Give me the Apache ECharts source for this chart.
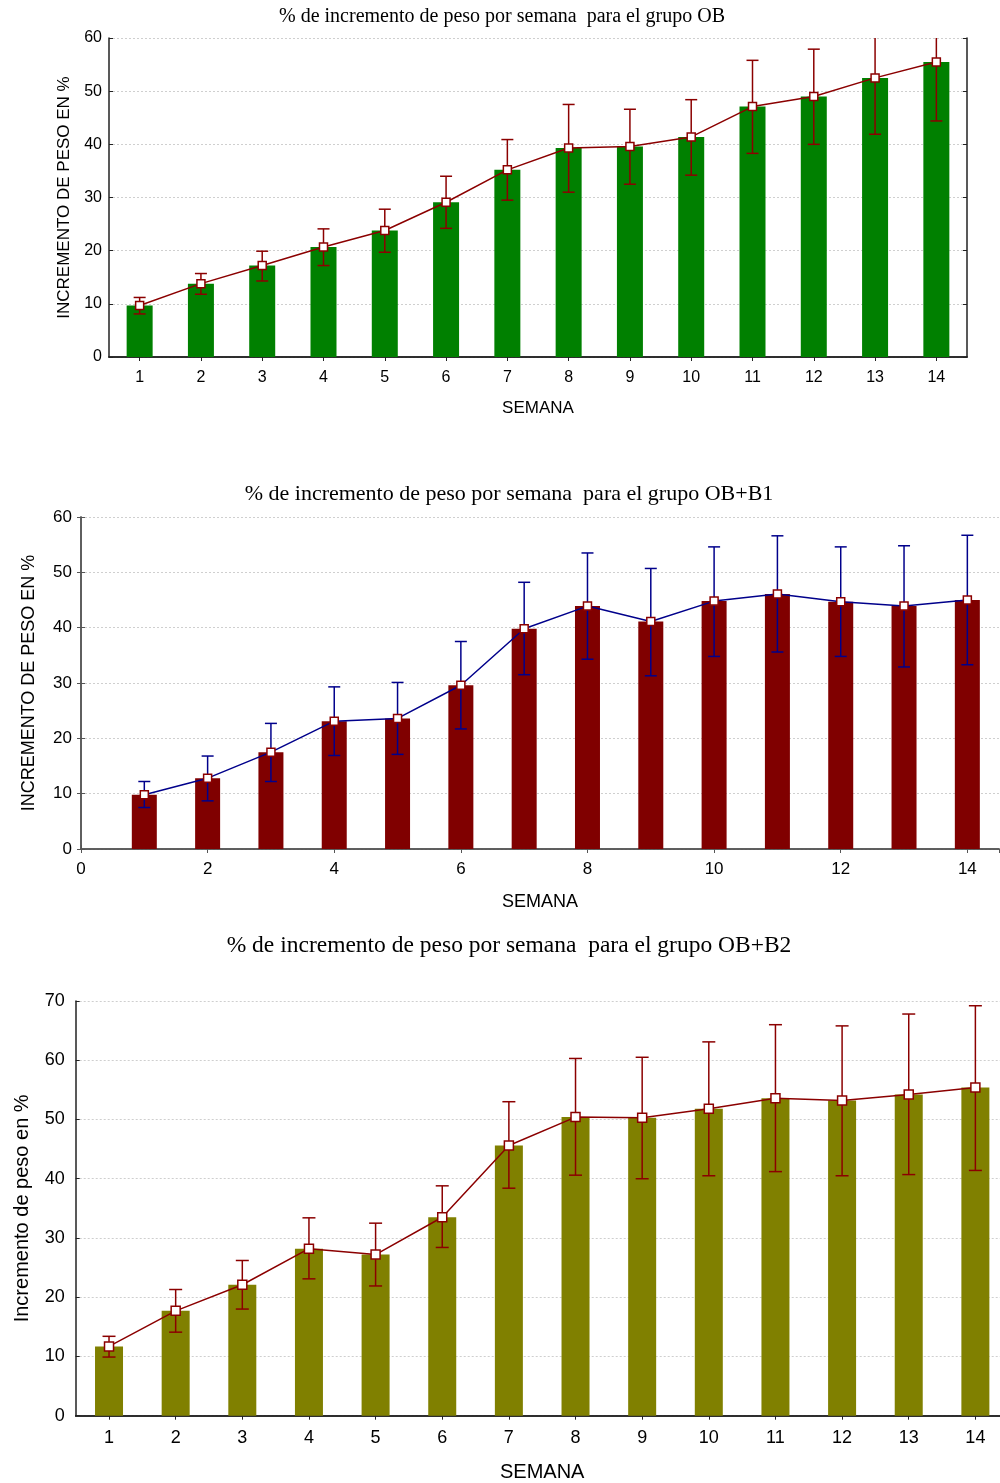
<!DOCTYPE html>
<html>
<head>
<meta charset="utf-8">
<script src="https://cdn.jsdelivr.net/npm/echarts@6/dist/echarts.min.js"></script>
<style>
html,body{margin:0;padding:0;background:#fff;}
#c{width:1000px;height:1483px;}
</style>
</head>
<body>
<div id="c"></div>
<script>
// ---------- DATA ----------
const weeks = [1,2,3,4,5,6,7,8,9,10,11,12,13,14];
const weekLabels = ['1','2','3','4','5','6','7','8','9','10','11','12','13','14'];

const titleOB = '% de incremento de peso por semana  para el grupo OB';
const titleB1 = '% de incremento de peso por semana  para el grupo OB+B1';
const titleB2 = '% de incremento de peso por semana  para el grupo OB+B2';
const yNameUpper = 'INCREMENTO DE PESO EN %';
const yNameLower = 'Incremento de peso en %';
const xName = 'SEMANA';

const obMean = [9.7,13.8,17.2,20.7,23.8,29.1,35.2,39.3,39.6,41.4,47.1,49.0,52.5,55.5];
const obLow  = [8.1,11.8,14.3,17.2,19.7,24.2,29.5,31.0,32.5,34.2,38.3,40.0,41.9,44.4];
const obHigh = [11.2,15.7,19.9,24.1,27.8,34.0,40.9,47.5,46.6,48.4,55.8,57.9,63.1,66.6];

const b1Mean = [9.8,12.8,17.5,23.1,23.6,29.6,39.8,43.9,41.1,44.8,46.1,44.7,43.9,45.0];
const b1Low  = [7.5,8.7,12.2,16.9,17.1,21.7,31.5,34.3,31.3,34.8,35.6,34.8,32.9,33.3];
const b1High = [12.2,16.8,22.7,29.3,30.1,37.5,48.2,53.5,50.7,54.6,56.6,54.6,54.8,56.7];

const b2Mean = [11.7,17.7,22.1,28.2,27.2,33.5,45.6,50.4,50.3,51.8,53.6,53.2,54.2,55.4];
const b2Low  = [9.9,14.1,18.0,23.1,21.9,28.4,38.4,40.6,40.0,40.5,41.2,40.5,40.7,41.4];
const b2High = [13.4,21.3,26.2,33.4,32.5,38.8,53.0,60.3,60.5,63.1,66.0,65.8,67.8,69.2];

// ---------- STYLE ----------
const SANS = '"Liberation Sans", Arial, sans-serif';
const SERIF = '"Liberation Serif", "Times New Roman", serif';
const DARKRED = '#8B0000';
const NAVY = '#00008B';

function errRender(capHalf, color, lw, yMax) {
  return function (params, api) {
    const x = api.value(0);
    const lo = api.value(1);
    let hi = api.value(2);
    const clipped = hi > yMax;
    if (clipped) hi = yMax;
    const pLo = api.coord([x, lo]);
    const pHi = api.coord([x, hi]);
    const xc = pLo[0];
    const st = { stroke: color, lineWidth: lw };
    const ch = [
      { type: 'line', shape: { x1: xc, y1: pHi[1], x2: xc, y2: pLo[1] }, style: st },
      { type: 'line', shape: { x1: xc - capHalf, y1: pLo[1], x2: xc + capHalf, y2: pLo[1] }, style: st }
    ];
    if (!clipped) ch.push({ type: 'line', shape: { x1: xc - capHalf, y1: pHi[1], x2: xc + capHalf, y2: pHi[1] }, style: st });
    return { type: 'group', children: ch };
  };
}

function yAxisPair(gridIndex, max, fontSize, nameSize, name, nameGap, labelMargin, lineColor) {
  return [
    {
      type: 'value', gridIndex: gridIndex, min: 0, max: max, interval: 10, position: 'left',
      name: name, nameLocation: 'middle', nameRotate: 90, nameGap: nameGap,
      nameTextStyle: { fontFamily: SANS, fontSize: nameSize, color: '#000' },
      axisLine: { show: true, lineStyle: { color: lineColor, width: 1.5 } },
      axisTick: { show: true, inside: true, length: 4, lineStyle: { color: lineColor } },
      axisLabel: { fontFamily: SANS, fontSize: fontSize, color: '#000', margin: labelMargin },
      splitLine: { show: true, lineStyle: { color: '#cfcfcf', type: [2, 2], width: 1 } }
    },
    {
      type: 'value', gridIndex: gridIndex, min: 0, max: max, interval: 10, position: 'right',
      axisLine: { show: true, lineStyle: { color: lineColor, width: 1.5 } },
      axisTick: { show: true, inside: true, length: 4, lineStyle: { color: lineColor } },
      axisLabel: { show: false },
      splitLine: { show: false }
    }
  ];
}

function catXPair(gridIndex, fontSize, nameSize, nameGap, labelMargin, lineColor) {
  return [
    {
      type: 'category', gridIndex: gridIndex, data: weekLabels, position: 'bottom', boundaryGap: true,
      name: xName, nameLocation: 'middle', nameGap: nameGap,
      nameTextStyle: { fontFamily: SANS, fontSize: nameSize, color: '#000' },
      axisLine: { show: true, lineStyle: { color: lineColor, width: 1.5 } },
      axisTick: { show: true, inside: true, alignWithLabel: true, length: 4, lineStyle: { color: lineColor } },
      axisLabel: { fontFamily: SANS, fontSize: fontSize, color: '#000', margin: labelMargin, interval: 0 },
      splitLine: { show: false }
    },
    {
      type: 'category', gridIndex: gridIndex, data: weekLabels, position: 'top', boundaryGap: true,
      axisLine: { show: true, lineStyle: { color: lineColor, width: 1.5 } },
      axisTick: { show: true, inside: true, alignWithLabel: true, length: 4, lineStyle: { color: lineColor } },
      axisLabel: { show: false },
      splitLine: { show: false }
    }
  ];
}

const y1 = yAxisPair(0, 60, 16, 17, yNameUpper, 36, 7, '#222');
const y2 = yAxisPair(1, 60, 17, 18, yNameUpper, 43, 9, '#555');
const y3 = yAxisPair(2, 70, 18, 20, yNameLower, 43, 11, '#222');

const x1 = catXPair(0, 16, 17, 43, 13, '#222');
const x3 = catXPair(2, 18, 20, 47, 13, '#222');
const x2 = [
  {
    type: 'value', gridIndex: 1, min: 0, max: 14.5, interval: 2, position: 'bottom',
    name: xName, nameLocation: 'middle', nameGap: 44,
    nameTextStyle: { fontFamily: SANS, fontSize: 18, color: '#000' },
    axisLine: { show: true, lineStyle: { color: '#555', width: 1.5 } },
    axisTick: { show: true, inside: true, length: 4, lineStyle: { color: '#555' } },
    axisLabel: { fontFamily: SANS, fontSize: 17, color: '#000', margin: 12, showMaxLabel: false },
    splitLine: { show: false }
  },
  {
    type: 'value', gridIndex: 1, min: 0, max: 14.5, interval: 2, position: 'top',
    axisLine: { show: true, lineStyle: { color: '#555', width: 1.5 } },
    axisTick: { show: true, inside: true, length: 4, lineStyle: { color: '#555' } },
    axisLabel: { show: false },
    splitLine: { show: false }
  }
];

const catIdx = weeks.map(function (w, i) { return i; });

const option = {
  animation: false,
  backgroundColor: '#fff',
  title: [
    { text: titleOB, left: 502, top: 7, textAlign: 'center', padding: 0,
      textStyle: { fontFamily: SERIF, fontSize: 20, fontWeight: 'normal', color: '#000' } },
    { text: titleB1, left: 509, top: 483, textAlign: 'center', padding: 0,
      textStyle: { fontFamily: SERIF, fontSize: 22, fontWeight: 'normal', color: '#000' } },
    { text: titleB2, left: 509, top: 934, textAlign: 'center', padding: 0,
      textStyle: { fontFamily: SERIF, fontSize: 23.5, fontWeight: 'normal', color: '#000' } }
  ],
  grid: [
    { left: 109, top: 38, width: 858, height: 319, outerBoundsMode: 'none', containLabel: false },
    { left: 81, top: 517, width: 918, height: 332, outerBoundsMode: 'none', containLabel: false },
    { left: 75.7, top: 1001, width: 933, height: 414.7, outerBoundsMode: 'none', containLabel: false }
  ],
  xAxis: [x1[0], x1[1], x2[0], x2[1], x3[0], x3[1]],
  yAxis: [y1[0], y1[1], y2[0], y2[1], y3[0], y3[1]],
  series: [
    // ---- chart 1 ----
    { type: 'bar', xAxisIndex: 0, yAxisIndex: 0, data: obMean, barWidth: 26,
      itemStyle: { color: '#008000' }, z: 1 },
    { type: 'custom', xAxisIndex: 0, yAxisIndex: 0, z: 3,
      data: catIdx.map(function (i) { return [i, obLow[i], obHigh[i]]; }),
      encode: { x: 0, y: [1, 2] },
      renderItem: errRender(6, DARKRED, 1.5, 60) },
    { type: 'line', xAxisIndex: 0, yAxisIndex: 0, data: obMean, z: 4,
      symbol: 'rect', symbolSize: 8,
      lineStyle: { color: DARKRED, width: 1.5 },
      itemStyle: { color: '#fff', borderColor: DARKRED, borderWidth: 1.5 } },
    // ---- chart 2 ----
    { type: 'bar', xAxisIndex: 2, yAxisIndex: 2, barWidth: 25,
      data: weeks.map(function (w, i) { return [w, b1Mean[i]]; }),
      itemStyle: { color: '#800000' }, z: 1 },
    { type: 'custom', xAxisIndex: 2, yAxisIndex: 2, z: 3,
      data: weeks.map(function (w, i) { return [w, b1Low[i], b1High[i]]; }),
      encode: { x: 0, y: [1, 2] },
      renderItem: errRender(6, NAVY, 1.5, 60) },
    { type: 'line', xAxisIndex: 2, yAxisIndex: 2, z: 4,
      data: weeks.map(function (w, i) { return [w, b1Mean[i]]; }),
      symbol: 'rect', symbolSize: 8,
      lineStyle: { color: NAVY, width: 1.5 },
      itemStyle: { color: '#fff', borderColor: DARKRED, borderWidth: 1.5 } },
    // ---- chart 3 ----
    { type: 'bar', xAxisIndex: 4, yAxisIndex: 4, data: b2Mean, barWidth: 28,
      itemStyle: { color: '#808000' }, z: 1 },
    { type: 'custom', xAxisIndex: 4, yAxisIndex: 4, z: 3,
      data: catIdx.map(function (i) { return [i, b2Low[i], b2High[i]]; }),
      encode: { x: 0, y: [1, 2] },
      renderItem: errRender(6.5, DARKRED, 1.5, 70) },
    { type: 'line', xAxisIndex: 4, yAxisIndex: 4, data: b2Mean, z: 4,
      symbol: 'rect', symbolSize: 9,
      lineStyle: { color: DARKRED, width: 1.5 },
      itemStyle: { color: '#fff', borderColor: DARKRED, borderWidth: 1.5 } }
  ]
};

const chart = echarts.init(document.getElementById('c'), null, { renderer: 'canvas' });
chart.setOption(option);
</script>
</body>
</html>
